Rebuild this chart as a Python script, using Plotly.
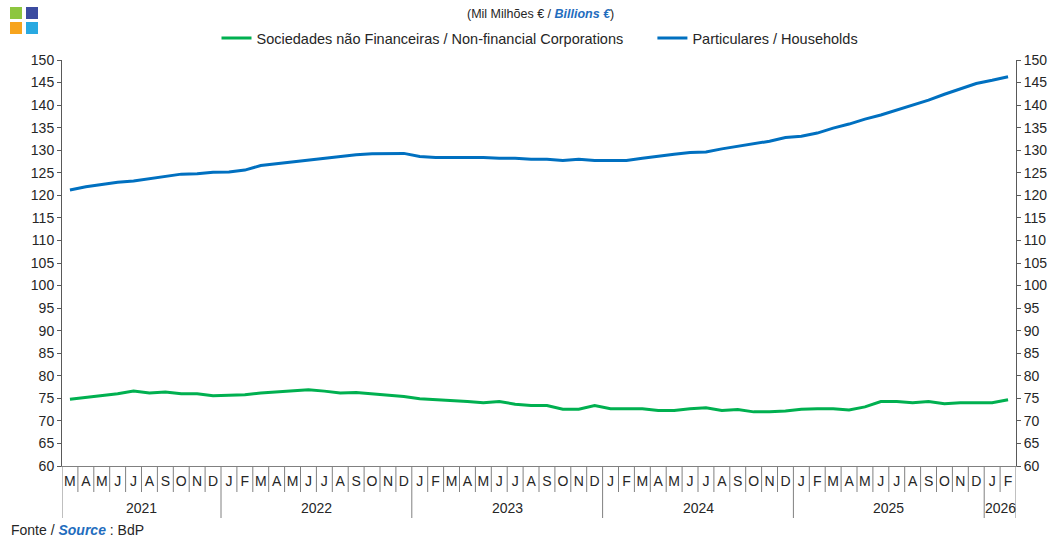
import plotly.graph_objects as go

month_letters = ["J", "F", "M", "A", "M", "J", "J", "A", "S", "O", "N", "D"]
year_labels = ["2021", "2022", "2023", "2024", "2025", "2026"]
year_month_counts = [10, 12, 12, 12, 12, 2]
first_month_2021 = 2  # March

households = [121.2, 121.9, 122.4, 122.9, 123.2, 123.7, 124.3, 124.7, 124.8, 125.1,
              125.2, 125.6, 126.6, 127.0, 127.4, 127.8, 128.3, 128.7, 129.0, 129.2,
              129.2, 129.3, 128.6, 128.4, 128.4, 128.4, 128.4, 128.2, 128.2, 128.0,
              128.0, 127.7, 128.0, 127.7, 127.7, 127.7, 128.2, 128.7, 129.1, 129.5,
              129.6, 130.3, 130.9, 131.4, 132.0, 132.8, 133.1, 133.8, 134.9, 135.8,
              136.9, 137.8, 138.9, 139.9, 141.1, 142.4, 143.6, 144.8, 145.5, 146.3]
corporations = [74.8, 75.2, 75.7, 76.0, 76.6, 76.2, 76.4, 76.0, 76.0, 75.6,
                75.7, 75.8, 76.2, 76.4, 76.7, 76.9, 76.6, 76.2, 76.3, 76.0,
                75.7, 75.4, 74.9, 74.7, 74.6, 74.3, 74.0, 74.3, 73.7, 73.4,
                73.4, 72.6, 72.6, 73.4, 72.7, 72.7, 72.7, 72.3, 72.3, 72.7,
                72.9, 72.3, 72.5, 72.0, 72.0, 72.2, 72.6, 72.7, 72.7, 72.4,
                73.1, 74.3, 74.3, 74.0, 74.3, 73.8, 74.0, 74.0, 74.0, 74.7]

# build category keys and month tick letters
cat_keys, tick_letters, year_spans = [], [], []
for yi, (yr, cnt) in enumerate(zip(year_labels, year_month_counts)):
    start_m = first_month_2021 if yi == 0 else 0
    s = len(cat_keys)
    for k in range(cnt):
        m = start_m + k
        cat_keys.append(f"{yr}-{m + 1:02d}")
        tick_letters.append(month_letters[m])
    year_spans.append((yr, s, len(cat_keys)))

GREEN = "#00B050"
BLUE = "#0070C0"
TXT = "#262626"
SEP = "#808080"
FONT = "Liberation Sans, Arial, sans-serif"

W, H = 1054, 539
L, R, T, B = 62, 1016, 60, 466  # plot area in px

def py(p):  # px y -> paper y
    return (B - p) / (B - T)

def pxx(p):  # px x -> paper x
    return (p - L) / (R - L)

NBSP = "\u00a0"
fig = go.Figure()
fig.add_trace(go.Scatter(x=cat_keys, y=corporations, mode="lines",
                         name="Sociedades não Financeiras / Non-financial Corporations" + NBSP * 6,
                         line=dict(color=GREEN, width=3), hoverinfo="y"))
fig.add_trace(go.Scatter(x=cat_keys, y=households, mode="lines",
                         name="Particulares / Households",
                         line=dict(color=BLUE, width=3), hoverinfo="y"))
fig.add_trace(go.Scatter(x=cat_keys, y=households, mode="lines", yaxis="y2", showlegend=False,
                         opacity=0, line=dict(width=0), hoverinfo="skip"))

yax = dict(range=[60, 150], dtick=5, tick0=60, showgrid=False, zeroline=False,
           showline=True, linecolor="#595959", linewidth=1, ticks="outside",
           ticklen=4, tickcolor="#595959", tickfont=dict(size=14, color=TXT, family=FONT))

annotations = [
    dict(text="(Mil Milhões € / <b><i><span style='color:#1F6DBE'>Billions €</span></i></b>)",
         xref="paper", yref="paper", x=pxx(540), y=py(14),
         xanchor="center", yanchor="middle", showarrow=False,
         font=dict(size=12.5, color=TXT, family=FONT)),
    dict(text="Fonte / <b><i><span style='color:#1F6DBE'>Source</span></i></b> : BdP",
         xref="paper", yref="paper", x=pxx(9), y=py(530),
         xanchor="left", yanchor="middle", showarrow=False,
         font=dict(size=14, color=TXT, family=FONT)),
]
shapes = []
# month separators and year separators
year_bounds = set()
for yr, s, e in year_spans:
    year_bounds.add(s)
    year_bounds.add(e)
    annotations.append(dict(text=yr, xref="x", yref="paper", x=(s + e - 1) / 2, y=py(508),
                            xanchor="center", yanchor="middle", showarrow=False,
                            font=dict(size=14, color=TXT, family=FONT)))
for i in range(len(cat_keys) + 1):
    y_end = py(518) if i in year_bounds else py(492)
    shapes.append(dict(type="line", xref="x", yref="paper", x0=i - 0.5, x1=i - 0.5,
                       y0=0, y1=y_end, line=dict(color=SEP, width=1)))

# logo squares (decoration)
for (x0, y0, x1, y1, c) in [(10, 7, 22, 19, "#8DC63F"), (26, 7, 38, 19, "#3B4BA0"),
                            (10, 22, 22, 34, "#F7A41D"), (26, 22, 38, 34, "#29A9E1")]:
    shapes.append(dict(type="rect", xref="paper", yref="paper", x0=pxx(x0), x1=pxx(x1),
                       y0=py(y1), y1=py(y0), fillcolor=c, line=dict(width=0), layer="above"))

fig.update_layout(
    width=W, height=H,
    margin=dict(l=L, r=W - R, t=T, b=H - B, autoexpand=False),
    paper_bgcolor="white", plot_bgcolor="white",
    font=dict(family=FONT, color=TXT, size=14),
    showlegend=True,
    legend=dict(orientation="h", x=pxx(540), xanchor="center", yref="container",
                y=1 - 38 / H, yanchor="middle",
                font=dict(size=14.5, color=TXT, family=FONT), bgcolor="rgba(0,0,0,0)",
                itemwidth=30, tracegroupgap=0),
    xaxis=dict(type="category", range=[-0.5, len(cat_keys) - 0.5], showgrid=False,
               showline=True, linecolor=SEP, linewidth=1, ticks="", ticklen=0,
               tickmode="array", tickvals=cat_keys, ticktext=tick_letters, tickangle=0,
               ticklabelstandoff=2,
               tickfont=dict(size=14, color=TXT, family=FONT)),
    yaxis=yax,
    yaxis2=dict(yax, overlaying="y", side="right"),
    annotations=annotations,
    shapes=shapes,
)

fig.write_html("out.html", config={"displayModeBar": False},
               post_script="document.body.style.margin='0';")
